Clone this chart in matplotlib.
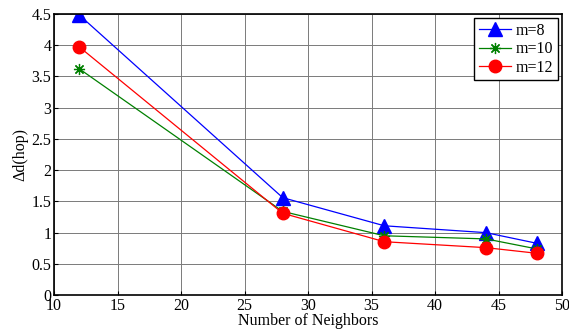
import matplotlib
matplotlib.use("Agg")
import matplotlib.pyplot as plt

neighbors = [12, 28, 36, 44, 48]
m8 = [4.48, 1.56, 1.11, 1.00, 0.83]
m10 = [3.62, 1.34, 0.95, 0.90, 0.74]
m12 = [3.97, 1.31, 0.855, 0.76, 0.67]

plt.rcParams['font.family'] = ['Liberation Serif', 'DejaVu Serif']

fig = plt.figure(figsize=(5.69, 3.32), dpi=100)
ax = fig.add_axes([0.095, 0.111, 0.893, 0.847])

ax.plot(neighbors, m8, color='blue', marker='^', markersize=10, lw=0.9, label='m=8')
ax.plot(neighbors, m10, color='green', marker=(8, 2, 0), markersize=8, lw=0.9, label='m=10',
        markeredgewidth=0.9)
ax.plot(neighbors, m12, color='red', marker='o', markersize=9, lw=0.9, label='m=12')

ax.set_xlim(10, 50)
ax.set_ylim(0, 4.5)
ax.set_xticks(range(10, 51, 5))
ax.set_yticks([0, 0.5, 1, 1.5, 2, 2.5, 3, 3.5, 4, 4.5])
ax.set_yticklabels(['0', '0.5', '1', '1.5', '2', '2.5', '3', '3.5', '4', '4.5'])
ax.grid(True, color='#7a7a7a', lw=0.7)
ax.tick_params(direction='in', labelsize=11.5, pad=2, length=3)
for s in ax.spines.values():
    s.set_linewidth(1.2)

ax.set_xlabel('Number of Neighbors', fontsize=11.5, labelpad=-1)
ax.set_ylabel('Δd(hop)', fontsize=11.5, labelpad=2)

leg = ax.legend(loc='upper right', fontsize=11.5, fancybox=False, framealpha=1,
                edgecolor='black', handlelength=2.0, borderpad=0.3, labelspacing=0.15,
                handletextpad=0.3, borderaxespad=0.25)
leg.get_frame().set_linewidth(1.0)

fig.savefig('out.png', dpi=100)
